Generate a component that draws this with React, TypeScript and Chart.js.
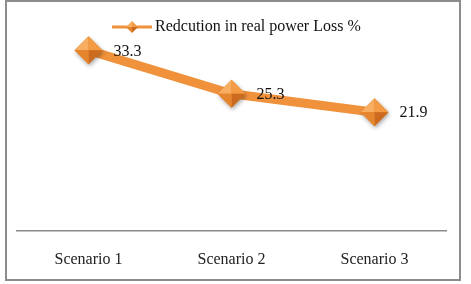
import React, { useEffect, useRef } from "react";
import { Chart, registerables } from "chart.js";

Chart.register(...registerables);

const categories = ["Scenario 1", "Scenario 2", "Scenario 3"];
const lossReduction = [33.3, 25.3, 21.9];
const seriesName = "Redcution in real power Loss %";

const SERIF = "'Liberation Serif', 'Times New Roman', serif";
const LINE_COLOR = "#F0913C";

function drawDiamond(ctx: CanvasRenderingContext2D, x: number, y: number, r: number, shadow: boolean) {
  ctx.save();
  if (shadow) {
    ctx.shadowColor = "rgba(0,0,0,0.35)";
    ctx.shadowBlur = 4;
    ctx.shadowOffsetX = 1;
    ctx.shadowOffsetY = 2;
    ctx.beginPath();
    ctx.moveTo(x, y - r);
    ctx.lineTo(x + r, y);
    ctx.lineTo(x, y + r);
    ctx.lineTo(x - r, y);
    ctx.closePath();
    ctx.fillStyle = "#E8862E";
    ctx.fill();
    ctx.shadowColor = "transparent";
  }
  const facets: [number, number, number, number, string][] = [
    [x - r, y, x, y - r, "#F8AE62"],
    [x, y - r, x + r, y, "#F39C45"],
    [x + r, y, x, y + r, "#CC6B1F"],
    [x, y + r, x - r, y, "#E5852E"],
  ];
  for (const [ax, ay, bx, by, c] of facets) {
    ctx.beginPath();
    ctx.moveTo(x, y);
    ctx.lineTo(ax, ay);
    ctx.lineTo(bx, by);
    ctx.closePath();
    ctx.fillStyle = c;
    ctx.fill();
  }
  ctx.restore();
}

// Shaded diamond markers, value labels and the overlaid legend
const decorations = {
  id: "decorations",
  afterDatasetsDraw(chart: any) {
    const ctx: CanvasRenderingContext2D = chart.ctx;
    const meta = chart.getDatasetMeta(0);
    meta.data.forEach((pt: any, i: number) => {
      drawDiamond(ctx, pt.x, pt.y, 14, true);
      ctx.save();
      ctx.font = `16px ${SERIF}`;
      ctx.fillStyle = "#111";
      ctx.textAlign = "left";
      ctx.textBaseline = "middle";
      ctx.fillText(lossReduction[i].toFixed(1), pt.x + 25, pt.y + 1);
      ctx.restore();
    });

    // legend
    const ly = 27;
    ctx.save();
    ctx.strokeStyle = LINE_COLOR;
    ctx.lineWidth = 3;
    ctx.beginPath();
    ctx.moveTo(112, ly);
    ctx.lineTo(152, ly);
    ctx.stroke();
    drawDiamond(ctx, 132, ly, 6, false);
    ctx.font = `16px ${SERIF}`;
    ctx.fillStyle = "#111";
    ctx.textAlign = "left";
    ctx.textBaseline = "middle";
    ctx.fillText(seriesName, 155, ly);
    ctx.restore();
  },
};

export default function App() {
  const canvasRef = useRef<HTMLCanvasElement>(null);

  useEffect(() => {
    document.body.style.margin = "0";
    const chart = new Chart(canvasRef.current!, {
      type: "line",
      data: {
        labels: categories,
        datasets: [
          {
            label: seriesName,
            data: lossReduction,
            borderColor: LINE_COLOR,
            borderWidth: 9,
            pointRadius: 0,
            pointHoverRadius: 0,
            tension: 0,
            borderCapStyle: "butt",
          },
        ],
      },
      options: {
        responsive: false,
        animation: false,
        events: [],
        layout: { padding: { left: 17, right: 25, top: 14, bottom: 0 } },
        plugins: {
          legend: { display: false },
          tooltip: { enabled: false },
        },
        scales: {
          x: {
            offset: true,
            grid: { display: false },
            border: { display: true, color: "#8a8a8a", width: 1.5 },
            ticks: {
              color: "#222",
              font: { family: SERIF, size: 16 },
              padding: 11,
              maxRotation: 0,
            },
            afterFit: (s: any) => {
              s.height = 53;
            },
          },
          y: {
            display: false,
            min: 0,
            max: 40,
          },
        },
      },
      plugins: [decorations],
    });
    return () => chart.destroy();
  }, []);

  return (
    <div style={{ position: "absolute", left: 0, top: 0, width: 471, height: 284 }}>
      <canvas ref={canvasRef} width={471} height={284} style={{ position: "absolute", left: 0, top: 0 }} />
      <div
        style={{
          position: "absolute",
          left: 5,
          top: 0,
          width: 452,
          height: 277,
          border: "2px solid #8c8c8c",
          pointerEvents: "none",
        }}
      />
    </div>
  );
}
